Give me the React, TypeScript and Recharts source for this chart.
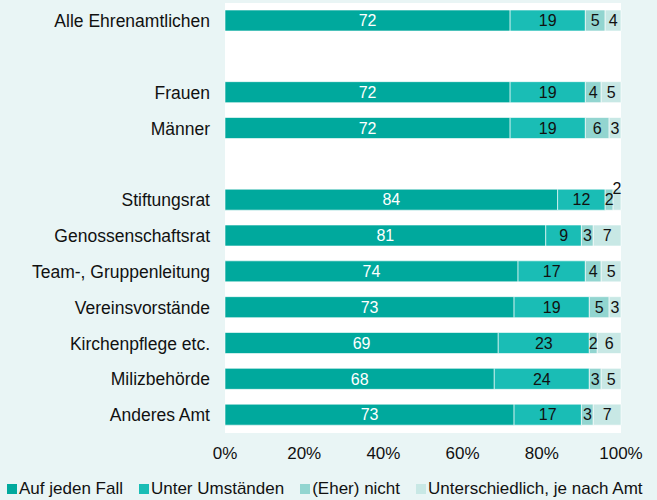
import { BarChart, Bar, XAxis, YAxis, CartesianGrid, Legend, LabelList } from 'recharts'

const categories = [
  'Alle Ehrenamtlichen',
  ' ',
  'Frauen',
  'Männer',
  '  ',
  'Stiftungsrat',
  'Genossenschaftsrat',
  'Team-, Gruppenleitung',
  'Vereinsvorstände',
  'Kirchenpflege etc.',
  'Milizbehörde',
  'Anderes Amt',
]

const aufJedenFall = [72, null, 72, 72, null, 84, 81, 74, 73, 69, 68, 73]
const unterUmstaenden = [19, null, 19, 19, null, 12, 9, 17, 19, 23, 24, 17]
const eherNicht = [5, null, 4, 6, null, 2, 3, 4, 5, 2, 3, 3]
const unterschiedlich = [4, null, 5, 3, null, 2, 7, 5, 3, 6, 5, 7]

const xTicks = [0, 20, 40, 60, 80, 100]

const series = [
  { key: 'a', name: 'Auf jeden Fall', color: '#00a99d', text: '#ffffff' },
  { key: 'b', name: 'Unter Umständen', color: '#1abdb5', text: '#111111' },
  { key: 'c', name: '(Eher) nicht', color: '#92d5d0', text: '#111111' },
  { key: 'd', name: 'Unterschiedlich, je nach Amt', color: '#c8e8e5', text: '#111111' },
]

const data = categories.map((name, i) => ({
  name,
  a: aufJedenFall[i],
  b: unterUmstaenden[i],
  c: eherNicht[i],
  d: unterschiedlich[i],
}))

const FONT = '"Liberation Sans", Arial, sans-serif'

function makeLabel(fill: string, last: boolean) {
  return (props: any) => {
    const { x, y, width, height, value } = props
    if (value == null) return null
    const cx = Number(x) + Number(width) / 2
    // tiny last segment gets its number lifted above the bar
    if (last && Number(width) < 10) {
      return (
        <text x={cx} y={Number(y) + 5} textAnchor="middle" fontSize={16} fontFamily={FONT} fill={fill}>
          {value}
        </text>
      )
    }
    return (
      <text
        x={cx}
        y={Number(y) + Number(height) / 2}
        dy="0.36em"
        textAnchor="middle"
        fontSize={16}
        fontFamily={FONT}
        fill={fill}
      >
        {value}
      </text>
    )
  }
}

function LegendContent() {
  return (
    <div
      style={{
        display: 'flex',
        alignItems: 'center',
        height: 30,
        paddingLeft: 7,
        paddingTop: 8,
        boxSizing: 'border-box',
        fontFamily: FONT,
        fontSize: 17,
        color: '#111',
        whiteSpace: 'nowrap',
      }}
    >
      {series.map((s) => (
        <div key={s.key} style={{ display: 'flex', alignItems: 'center', marginRight: 16 }}>
          <span style={{ display: 'inline-block', width: 10, height: 10, background: s.color, marginRight: 2 }} />
          <span>{s.name}</span>
        </div>
      ))}
    </div>
  )
}

export default function App() {
  return (
    <div style={{ position: 'absolute', left: 0, top: 0, width: 657, height: 500, background: '#e9f5f5' }}>
      <BarChart
        width={657}
        height={500}
        data={data}
        layout="vertical"
        margin={{ top: 3, right: 36, left: 0, bottom: 0 }}
        barSize={21}
      >
        <CartesianGrid fill="#ffffff" horizontal={false} vertical={false} />
        <XAxis
          type="number"
          domain={[0, 100]}
          ticks={xTicks}
          tickFormatter={(v) => `${v}%`}
          axisLine={false}
          tickLine={false}
          tickSize={0}
          tickMargin={14}
          height={37}
          tick={{ fill: '#111', fontSize: 17, fontFamily: FONT }}
        />
        <YAxis
          type="category"
          dataKey="name"
          width={225}
          axisLine={false}
          tickLine={false}
          tickSize={0}
          tickMargin={15}
          interval={0}
          tick={{ fill: '#111', fontSize: 17.5, fontFamily: FONT }}
        />
        <Legend
          verticalAlign="bottom"
          height={30}
          content={<LegendContent />}
          wrapperStyle={{ left: 0, bottom: 0, width: 657, height: 30 }}
        />
        {series.map((s, i) => (
          <Bar
            key={s.key}
            dataKey={s.key}
            name={s.name}
            stackId="s"
            fill={s.color}
            stroke="#ffffff"
            strokeWidth={0.6}
            isAnimationActive={false}
          >
            <LabelList dataKey={s.key} content={makeLabel(s.text, i === series.length - 1)} />
          </Bar>
        ))}
      </BarChart>
    </div>
  )
}
